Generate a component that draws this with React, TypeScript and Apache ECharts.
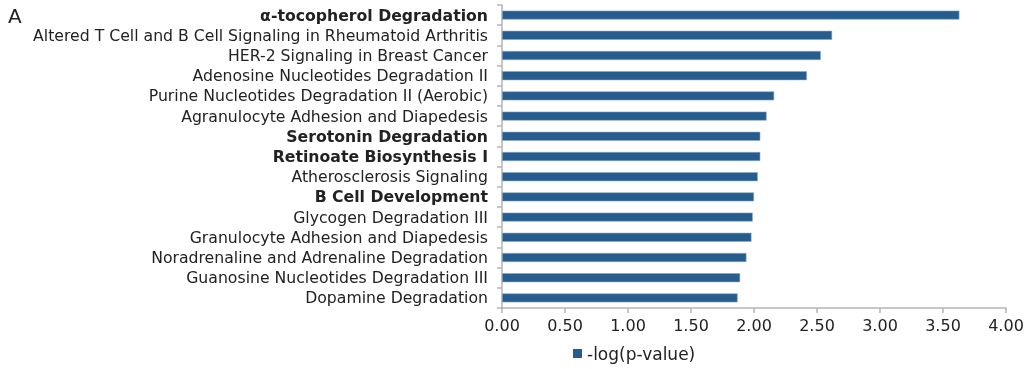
import React, { useEffect, useRef } from "react";
import * as echarts from "echarts";

const categories = [
  "α-tocopherol Degradation",
  "Altered T Cell and B Cell Signaling in Rheumatoid Arthritis",
  "HER-2 Signaling in Breast Cancer",
  "Adenosine Nucleotides Degradation II",
  "Purine Nucleotides Degradation II (Aerobic)",
  "Agranulocyte Adhesion and Diapedesis",
  "Serotonin Degradation",
  "Retinoate Biosynthesis I",
  "Atherosclerosis Signaling",
  "B Cell Development",
  "Glycogen Degradation III",
  "Granulocyte Adhesion and Diapedesis",
  "Noradrenaline and Adrenaline Degradation",
  "Guanosine Nucleotides Degradation III",
  "Dopamine Degradation",
];
const boldCategories = [
  "α-tocopherol Degradation",
  "Serotonin Degradation",
  "Retinoate Biosynthesis I",
  "B Cell Development",
];
const values = [3.63, 2.62, 2.53, 2.42, 2.16, 2.1, 2.05, 2.05, 2.03, 2.0, 1.99, 1.98, 1.94, 1.89, 1.87];
const seriesName = "-log(p-value)";

const FONT = "DejaVu Sans, sans-serif";

export default function App() {
  const ref = useRef<HTMLDivElement>(null);
  useEffect(() => {
    if (!ref.current) return;
    const chart = echarts.init(ref.current, undefined, { renderer: "svg" });
    chart.setOption({
      animation: false,
      textStyle: { fontFamily: FONT },
      graphic: [
        {
          type: "text",
          left: 8,
          top: 6,
          style: { text: "A", fontSize: 20, fill: "#222", fontFamily: FONT },
        },
      ],
      legend: {
        bottom: 2,
        left: 568,
        itemWidth: 9,
        itemHeight: 9,
        itemGap: 9,
        icon: "rect",
        itemStyle: { borderWidth: 0 },
        textStyle: { fontSize: 17, color: "#222", fontFamily: FONT },
        data: [seriesName],
      },
      grid: { left: 502, right: 23, top: 5, bottom: 61, outerBoundsMode: "none", containLabel: false },
      xAxis: {
        type: "value",
        min: 0,
        max: 4,
        interval: 0.5,
        axisLine: { show: true, lineStyle: { color: "#b5b5b5", width: 1.5 } },
        axisTick: { show: true, length: 5, lineStyle: { color: "#b5b5b5", width: 1.5 } },
        splitLine: { show: false },
        axisLabel: {
          fontSize: 16,
          color: "#222",
          margin: 9,
          fontFamily: FONT,
          formatter: (v: number) => v.toFixed(2),
        },
      },
      yAxis: {
        type: "category",
        inverse: true,
        data: categories.map((c) =>
          boldCategories.includes(c)
            ? { value: c, textStyle: { fontWeight: "bold" } }
            : { value: c }
        ),
        axisLine: { show: true, lineStyle: { color: "#b5b5b5", width: 1.5 } },
        axisTick: { show: true, length: 5, inside: false, alignWithLabel: false, lineStyle: { color: "#b5b5b5", width: 1.5 } },
        axisLabel: { fontSize: 15.7, color: "#222", margin: 14, interval: 0, fontFamily: FONT },
      },
      series: [
        {
          name: seriesName,
          type: "bar",
          data: values,
          barWidth: 9,
          itemStyle: { color: "#275c8e", borderColor: "#8aa7c4", borderWidth: 0.6 },
        },
      ],
    });
    return () => chart.dispose();
  }, []);
  return <div ref={ref} style={{ position: "fixed", left: 0, top: 0, width: 1029, height: 369 }} />;
}
